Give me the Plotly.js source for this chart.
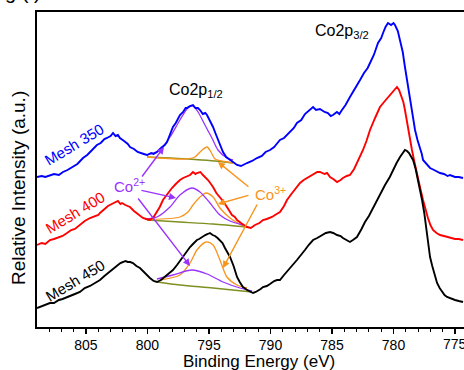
<!DOCTYPE html>
<html><head><meta charset="utf-8">
<script src="https://cdn.plot.ly/plotly-3.0.1.min.js"></script>
<style>html,body{margin:0;padding:0;background:#fff;}#c{width:464px;height:370px;}</style>
</head><body><div id="c"></div>
<script>
// Binding energy (eV) and relative intensity (a.u.)
const blueE=[808.98,808.6,808.3,807.93,807.6,807.2,806.87,806.5,806.06,805.7,805.24,804.9,804.5,804.11,803.8,803.5,803.29,803.0,802.80,802.6,802.4,802.24,801.9,801.6,801.42,801.1,800.8,800.61,800.3,800.04,799.7,799.5,799.23,798.9,798.6,798.41,798.2,797.93,797.7,797.5,797.36,797.1,796.9,796.79,796.55,796.30,796.1,795.9,795.73,795.5,795.3,795.16,794.9,794.67,794.45,794.27,794.05,793.86,793.6,793.29,793.0,792.72,792.4,792.1,791.91,791.5,791.10,790.7,790.4,790.04,789.7,789.5,789.23,788.9,788.6,788.41,788.1,787.85,787.5,787.2,786.9,786.54,786.3,785.98,785.6,785.33,785.1,784.92,784.6,784.4,784.19,783.9,783.54,783.2,782.9,782.72,782.4,782.1,781.91,781.6,781.26,781.0,780.85,780.65,780.45,780.2,780.0,779.88,779.65,779.47,779.25,779.07,778.85,778.66,778.45,778.25,778.05,777.85,777.7,777.60,777.3,777.03,776.7,776.4,776.22,775.9,775.6,775.41,775.0,774.7,774.35];
const blueI=[150,151,150,152,153,152,155,157,160,163,169,172,177,182,184,188,189,191,194,191,192,189,186,183,180,178,175,174,173,172,174,173,175,179,182,185,191,200,204,209,212,215,219,219,221,222,219,219,217,213,214,212,206,200,193,187,180,175,170,167,164,162,161,163,164,166,169,171,175,177,180,183,187,189,193,195,199,204,207,213,216,220,217,218,215,214,211,212,215,213,217,222,230,237,242,247,254,259,264,272,284,289,294,300,304,302,304,302,296,287,275,260,242,227,211,197,187,180,173,167,163,159,157,155,154,153,151,152,150,150,149];
const redE=[808.98,808.6,808.3,807.93,807.6,807.2,806.9,806.54,806.2,805.9,805.49,805.1,804.67,804.3,804.0,803.86,803.5,803.21,802.9,802.64,802.4,802.2,802.07,801.8,801.42,801.1,800.8,800.6,800.37,800.1,799.80,799.5,799.23,799.0,798.74,798.4,798.01,797.7,797.36,797.1,796.8,796.54,796.3,796.1,795.98,795.7,795.49,795.3,795.08,794.9,794.67,794.4,794.11,793.8,793.54,793.3,793.13,792.9,792.72,792.4,792.1,791.91,791.6,791.26,790.9,790.61,790.3,789.88,789.5,789.23,788.9,788.66,788.3,788.0,787.60,787.3,787.0,786.54,786.2,785.98,785.6,785.4,785.16,784.9,784.59,784.3,784.11,783.8,783.54,783.2,782.97,782.7,782.48,782.2,781.91,781.5,781.10,780.7,780.28,780.0,779.72,779.55,779.39,779.2,779.07,778.95,778.82,778.65,778.50,778.3,778.09,777.85,777.60,777.4,777.20,777.0,776.79,776.5,776.22,775.9,775.65,775.3,775.00,774.7,774.35];
const redI=[82,84,83,87,88,90,91,94,97,98,102,106,109,111,112,114,118,121,123,125,126,123,124,122,120,116,113,111,109,108,107,110,115,120,127,133,139,143,147,149,151,152,155,153,154,155,152,150,147,144,140,134,130,125,120,116,112,110,107,104,102,100,99,102,104,107,108,110,113,115,121,127,133,138,144,147,149,152,155,155,153,154,150,148,145,147,149,151,152,158,164,170,177,186,197,209,220,226,232,236,240,237,232,225,217,208,199,188,177,165,152,140,127,117,109,102,97,94,92,91,90,89,88,88,87];
const blackE=[808.98,808.6,808.3,807.93,807.6,807.2,806.9,806.54,806.2,805.9,805.49,805.1,804.67,804.3,804.0,803.86,803.5,803.05,802.7,802.40,802.2,801.99,801.8,801.59,801.4,801.18,800.9,800.61,800.3,800.0,799.80,799.5,799.23,798.9,798.58,798.3,797.93,797.6,797.20,796.9,796.54,796.3,795.98,795.8,795.57,795.3,795.1,794.92,794.7,794.51,794.3,794.11,793.9,793.70,793.5,793.29,793.0,792.72,792.5,792.24,791.9,791.6,791.42,791.2,791.02,790.8,790.61,790.3,790.04,789.7,789.47,789.23,788.9,788.58,788.2,787.85,787.5,787.20,786.9,786.54,786.2,785.81,785.5,785.16,784.9,784.59,784.3,784.11,783.8,783.54,783.3,782.97,782.6,782.32,782.0,781.75,781.5,781.34,781.0,780.69,780.3,780.04,779.75,779.47,779.25,779.07,778.9,778.74,778.6,778.41,778.2,778.01,777.85,777.68,777.5,777.36,777.2,777.03,776.85,776.71,776.6,776.46,776.25,776.06,775.85,775.65,775.3,775.00,774.7,774.35];
const blackI=[19,21,22,24,24,27,28,30,32,33,35,39,41,44,46,47,51,55,59,62,64,65,66,65,65,64,61,59,55,51,49,46,45,47,50,53,57,62,69,74,80,83,87,88,90,92,93,94,92,91,89,87,84,79,75,70,61,50,45,40,37,35,34,35,36,38,40,41,43,46,47,47,52,57,62,67,72,77,82,87,89,92,94,95,94,92,91,89,87,85,87,90,98,105,111,117,122,127,134,142,150,157,164,170,174,177,176,174,171,167,158,147,138,127,114,99,84,70,61,55,49,44,39,35,32,30,28,27,26,25];

// Fitted components of the Co2p1/2 region: background, Co2+ and Co3+ peaks
const b_bgE=[800.04,798.17,796.14,794.51,793.05], b_bgI=[170,169,167.5,166,164];
const b_co2E=[800.04,798.98,798.17,797.36,796.71,796.30,795.89,795.33,794.76,794.27,793.54,793.05];
const b_co2I=[172,177,190,207,219,221,215,202,189,177,169,167];
const b_co3E=[800.04,796.95,796.14,795.73,795.16,794.84,794.51,793.70,793.05];
const b_co3I=[170,168,170,175,180,175,168,165.5,164];

const r_bgE=[800.04,797.36,794.67,791.91], r_bgI=[107,105,103,100];
const r_co2E=[800.20,799.23,798.17,797.36,796.38,795.73,794.92,794.11,793.29,792.24];
const r_co2I=[108,110,120,132,139,135,124,112,106,102];
const r_co3E=[799.80,797.36,796.71,796.30,795.73,795.24,794.67,794.11,793.29,792.24];
const r_co3I=[107.5,110,115,122,130,134,130,119,109,101];

const k_bgE=[799.23,797.36,794.67,791.50], k_bgI=[45,42,39,35];
const k_co2E=[799.23,797.93,796.38,795.16,793.86,792.48,791.50];
const k_co2I=[48,52,57,53,45,39,36];
const k_co3E=[798.98,797.36,796.54,795.98,795.24,794.67,794.11,793.54,792.72,791.91];
const k_co3I=[47,52,64,77,85,82,67,50,42,39];

const xTicks=[805,800,795,790,785,780,775];
const xTickText=["805","800","795","790","785","780",""];
const meshLabels=["Mesh 350","Mesh 400","Mesh 450"];

const PURPLE="#9933ff", ORANGE="#f7941d", OLIVE="#7f8f20";
const FONT="Liberation Sans, Arial, sans-serif";

function ln(x,y,color,w,shape){return {x:x,y:y,type:'scatter',mode:'lines',line:{color:color,width:w,shape:shape||'linear',smoothing:0.8},hoverinfo:'skip'};}

const traces=[
  ln(b_bgE,b_bgI,OLIVE,1.3,'spline'), ln(b_co3E,b_co3I,ORANGE,1.3,'spline'), ln(b_co2E,b_co2I,PURPLE,1.3,'spline'),
  ln(r_bgE,r_bgI,OLIVE,1.3,'spline'), ln(r_co3E,r_co3I,ORANGE,1.3,'spline'), ln(r_co2E,r_co2I,PURPLE,1.3,'spline'),
  ln(k_bgE,k_bgI,OLIVE,1.3,'spline'), ln(k_co3E,k_co3I,ORANGE,1.3,'spline'), ln(k_co2E,k_co2I,PURPLE,1.3,'spline'),
  ln(blueE,blueI,'#0000ff',1.9), ln(redE,redI,'#ff0000',1.9), ln(blackE,blackI,'#000000',1.9)
];

function arrow(x,y,ax,ay,color){return {x:x,y:y,ax:ax,ay:ay,xref:'x',yref:'y',axref:'x',ayref:'y',text:'',showarrow:true,arrowhead:2,arrowsize:1,arrowwidth:1.4,arrowcolor:color,standoff:0};}
function txt(x,y,t,color,size,angle){return {x:x,y:y,xref:'x',yref:'y',text:t,showarrow:false,font:{family:FONT,size:size,color:color},textangle:angle||0,xanchor:'center',yanchor:'middle'};}

const annotations=[
  arrow(798.66,180,800.53,149,PURPLE), arrow(797.68,129,800.61,137,PURPLE), arrow(796.54,61,800.85,130,PURPLE),
  arrow(794.27,165,791.67,139,ORANGE), arrow(794.27,123,791.67,132,ORANGE), arrow(793.86,59,791.02,124,ORANGE),
  txt(796.06,237,'Co2p<sub>1/2</sub>','#000',16),
  txt(784.19,296,'Co2p<sub>3/2</sub>','#000',16),
  txt(801.50,142,'Co<sup>2+</sup>',PURPLE,15),
  txt(790.04,134,'Co<sup>3+</sup>',ORANGE,15),
  txt(805.98,183,meshLabels[0],'#0000ff',15,-31),
  txt(805.89,115,meshLabels[1],'#ff0000',15,-31),
  txt(805.89,47,meshLabels[2],'#000000',15,-31),
  {x:775,y:-0.054,xref:'x',yref:'paper',text:'775',showarrow:false,font:{family:FONT,size:14,color:'#000'},xanchor:'center',yanchor:'middle'},
  {x:0.521,y:-0.111,xref:'paper',yref:'paper',text:'Binding Energy (eV)',showarrow:false,font:{family:FONT,size:17,color:'#000'},xanchor:'center',yanchor:'middle'},
  {x:-0.0445,y:0.441,xref:'paper',yref:'paper',text:'Relative Intensity (a.u.)',showarrow:false,textangle:-90,font:{family:FONT,size:19,color:'#000'},xanchor:'center',yanchor:'middle'},
  {x:-0.08,y:1.022,xref:'paper',yref:'paper',text:'g (f)',showarrow:false,font:{family:FONT,size:20,color:'#000'},xanchor:'left',yanchor:'bottom'}
];

const layout={
  width:464,height:370,margin:{l:37,r:0,t:12,b:43},
  paper_bgcolor:'#fff',plot_bgcolor:'#fff',showlegend:false,
  font:{family:FONT,color:'#000'},
  xaxis:{range:[808.98,774.27],tickvals:xTicks,ticktext:xTickText,ticks:'outside',ticklen:5,tickwidth:1.3,tickcolor:'#000',
    minor:{dtick:1,ticks:'outside',ticklen:3,tickwidth:1,tickcolor:'#000'},
    showline:true,linewidth:1.6,linecolor:'#000',mirror:true,showgrid:false,zeroline:false,tickfont:{family:FONT,size:14,color:'#000'}},
  yaxis:{range:[0,315],showticklabels:false,ticks:'',showline:true,linewidth:1.6,linecolor:'#000',showgrid:false,zeroline:false},
  annotations:annotations
};
Plotly.newPlot('c',traces,layout,{staticPlot:true,displayModeBar:false});
</script></body></html>
